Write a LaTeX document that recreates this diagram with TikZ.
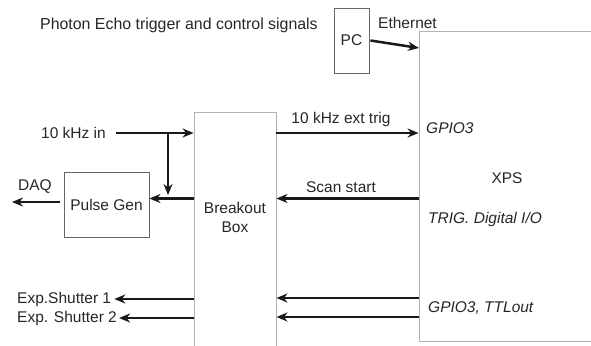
\documentclass[tikz,border=0pt]{standalone}
\usepackage{fontspec}
\setmainfont{Liberation Sans}
\usetikzlibrary{arrows.meta, positioning}

\begin{document}
\begin{tikzpicture}[x=1pt, y=-1pt, font=\fontsize{15.5}{19}\selectfont, text=black!85,
    >={Stealth[length=11pt, width=9pt, inset=3.5pt]},
    sig/.style={->, line width=2.5pt, black!90},
    dev/.style={draw=black!60, line width=0.9pt, inner sep=0pt, align=center},
    rack/.style={draw=black!30, line width=0.9pt, inner sep=0pt},
    lbl/.style={inner sep=0pt},
    port/.style={inner sep=0pt, anchor=west, font=\fontsize{15.5}{19}\selectfont\itshape}
]
    \useasboundingbox (0,0) rectangle (591,345);
    \clip (0,0) rectangle (591,345);
    % boxes
    \node[rack, minimum width=190pt, minimum height=310pt] (xps) at (514,186) {};
    \node[rack, minimum width=82pt, minimum height=250pt] (bob) at (235,237) {};
    \node[dev, minimum width=35pt, minimum height=65pt] (pc) at (351.5,40.5) {PC};
    \node[dev, minimum width=85pt, minimum height=65pt] (pg) at (106.5,204.5) {Pulse Gen};
    \node[lbl, align=center] (bobl) at (235,217) {Breakout\\Box};
    \node[lbl] (xpsl) at (507,178) {XPS};
    % texts
    \node[lbl, anchor=west] (title) at (40,25) {\fontsize{15.9}{19}\selectfont Photon Echo trigger and control signals};
    \node[lbl, anchor=west] (eth) at (378,23) {Ethernet};
    \node[lbl, anchor=east] (in10) at (106,133) {10 kHz in};
    \node[lbl] (daql) at (35,187) {DAQ};
    \node[lbl] (trigl) at (341,119) {10 kHz ext trig};
    \node[lbl] (scanl) at (341,187) {Scan start};
    \node[lbl, anchor=west] (sh1) at (17,299) {Exp.Shutter 1};
    \node[lbl, anchor=west] (sh2) at (17,318) {Exp. Shutter 2};
    \node[port] (gpio) at (426,128) {GPIO3};
    \node[port] (trig) at (428,219) {TRIG. Digital I/O};
    \node[port] (ttl) at (428,308) {GPIO3, TTLout};
    % connector ends
    \coordinate (ethin) at (419,48);
    \coordinate (tap) at (168,133);
    \coordinate (tapend) at (168,195);
    \coordinate (pgin) at ([yshift=6pt]pg.east);
    \coordinate (daq) at (12,202);
    \coordinate (shr1) at (419,298);
    \coordinate (shr2) at (419,317);
    % signals
    \draw[sig] ([xshift=1pt]pc.east) -- (ethin);
    \draw[sig] ([xshift=10pt]in10.east) -- (in10 -| bob.west);
    \draw[sig] (tap) -- (tapend);
    \draw[sig] (bob.west |- pgin) -- (pgin);
    \draw[sig] ([xshift=-4pt, yshift=2.5pt]pg.west) -- (daq);
    \draw[sig] (bob.east |- in10) -- (xps.west |- in10);
    \draw[sig] (xps.west |- pgin) -- (bob.east |- pgin);
    \draw[sig] (sh1.east -| bob.west) -- ([xshift=3pt]sh1.east);
    \draw[sig] (sh2.east -| bob.west) -- ([xshift=2pt]sh2.east);
    \draw[sig] (shr1) -- (shr1 -| bob.east);
    \draw[sig] (shr2) -- (shr2 -| bob.east);
\end{tikzpicture}
\end{document}
